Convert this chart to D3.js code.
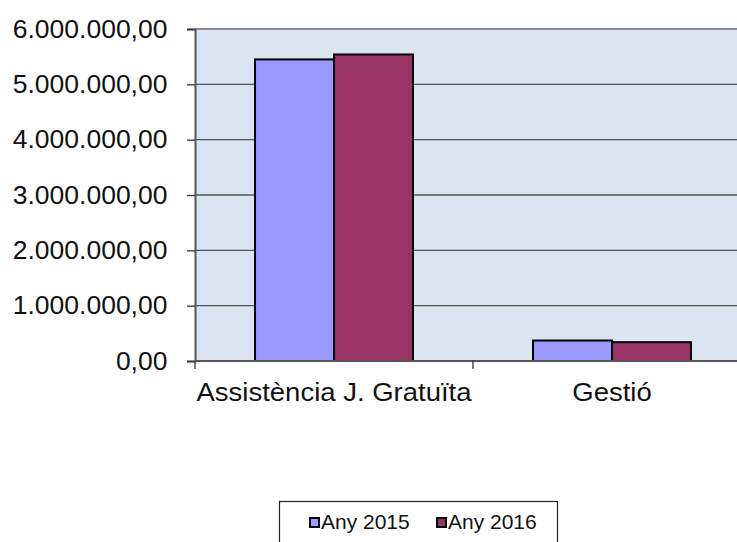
<!DOCTYPE html>
<html>
<head>
<meta charset="utf-8">
<script src="https://cdn.jsdelivr.net/npm/d3@7"></script>
<style>
  body { margin: 0; background: #fff; }
  svg { display: block; font-family: "Liberation Sans", Arial, sans-serif; }
</style>
</head>
<body>
<div id="chart"></div>
<script>
const categories = ["Assistència J. Gratuïta", "Gestió"];
const seriesNames = ["Any 2015", "Any 2016"];
const values2015 = [5450000, 370000];
const values2016 = [5540000, 340000];
const yTicks = [0, 1000000, 2000000, 3000000, 4000000, 5000000, 6000000];
const colors = ["#9999ff", "#993366"];

const width = 737, height = 542;
const plot = { left: 195, right: 751, top: 29, bottom: 361 };

const svg = d3.select("#chart").append("svg")
    .attr("width", width)
    .attr("height", height);

const locale = d3.formatLocale({ decimal: ",", thousands: ".", grouping: [3], currency: ["", "€"] });
const fmt = locale.format(",.2f");

const x0 = d3.scaleBand().domain(categories).range([plot.left, plot.right]).padding(0);
const x1 = d3.scaleBand().domain(seriesNames).range([0, x0.bandwidth()]).paddingInner(0).paddingOuter(0.76);
const y = d3.scaleLinear().domain([0, 6000000]).range([plot.bottom, plot.top]);

// plot background
svg.append("rect")
    .attr("x", plot.left).attr("y", plot.top)
    .attr("width", plot.right - plot.left).attr("height", plot.bottom - plot.top)
    .attr("fill", "#dbe5f1");

// gridlines
svg.append("g")
    .selectAll("line")
    .data(yTicks.filter(d => d > 0))
    .join("line")
    .attr("x1", plot.left).attr("x2", plot.right)
    .attr("y1", d => y(d)).attr("y2", d => y(d))
    .attr("stroke", d => d === 6000000 ? "#8c8c8c" : "#555")
    .attr("stroke-width", d => d === 6000000 ? 2 : 1.3);

// bars
const rows = categories.map((c, i) => ({ cat: c, vals: [values2015[i], values2016[i]] }));
svg.append("g")
    .selectAll("g")
    .data(rows)
    .join("g")
    .attr("transform", d => `translate(${x0(d.cat)},0)`)
    .selectAll("rect")
    .data(d => d.vals.map((v, j) => ({ name: seriesNames[j], v, j })))
    .join("rect")
    .attr("x", d => x1(d.name))
    .attr("y", d => y(d.v))
    .attr("width", x1.bandwidth())
    .attr("height", d => y(0) - y(d.v))
    .attr("fill", d => colors[d.j])
    .attr("stroke", "#000")
    .attr("stroke-width", 2);

// y axis
const yAxis = svg.append("g")
    .attr("transform", `translate(${plot.left},0)`)
    .call(d3.axisLeft(y).tickValues(yTicks).tickFormat(fmt).tickSize(8).tickPadding(18));
yAxis.select(".domain").attr("stroke", "#555").attr("stroke-width", 2);
yAxis.selectAll(".tick line").attr("stroke", "#333").attr("stroke-width", 1.3);
yAxis.selectAll("text").attr("font-size", 25).attr("fill", "#111")
    .attr("font-family", "Liberation Sans, Arial, sans-serif")
    .attr("transform", "scale(1.06,1)");

// x axis
const xAxis = svg.append("g")
    .attr("transform", `translate(0,${plot.bottom})`)
    .call(d3.axisBottom(x0).tickSize(0).tickPadding(22));
xAxis.select(".domain").remove();
xAxis.selectAll("text").attr("font-size", 25).attr("fill", "#111")
    .attr("font-family", "Liberation Sans, Arial, sans-serif")
    .attr("transform", "scale(1.1,1)");
svg.append("line")
    .attr("x1", plot.left).attr("x2", plot.right)
    .attr("y1", plot.bottom).attr("y2", plot.bottom)
    .attr("stroke", "#555").attr("stroke-width", 2);
svg.append("g")
    .selectAll("line")
    .data(categories.concat(["end"]))
    .join("line")
    .attr("x1", d => d === "end" ? plot.right : x0(d))
    .attr("x2", d => d === "end" ? plot.right : x0(d))
    .attr("y1", plot.bottom).attr("y2", plot.bottom + 8)
    .attr("stroke", "#333").attr("stroke-width", 1.3);

// legend
const legend = svg.append("g");
legend.append("rect")
    .attr("x", 279.5).attr("y", 501.5)
    .attr("width", 278).attr("height", 60)
    .attr("fill", "#fff").attr("stroke", "#222").attr("stroke-width", 1.2);
const items = legend.selectAll("g.item")
    .data(seriesNames)
    .join("g")
    .attr("class", "item")
    .attr("transform", (d, i) => `translate(${310 + i * 127},518)`);
items.append("rect")
    .attr("width", 9).attr("height", 9)
    .attr("fill", (d, i) => colors[i])
    .attr("stroke", "#000").attr("stroke-width", 2);
items.append("text")
    .attr("transform", "translate(11,11) scale(1.05,1)")
    .attr("font-size", 20).attr("fill", "#111")
    .text(d => d);
</script>
</body>
</html>
